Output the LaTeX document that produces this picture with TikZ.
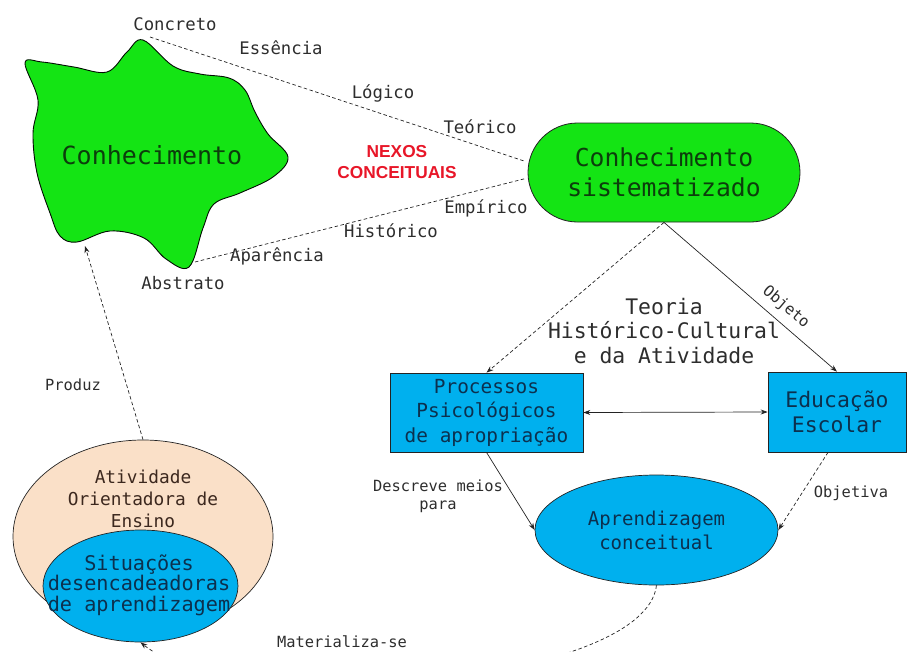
\documentclass[tikz,border=0pt]{standalone}
\usepackage{fontspec}
\setmainfont{DejaVu Sans Mono}
\newfontfamily\headfont{Liberation Sans}
\usetikzlibrary{arrows.meta,shapes.misc,shapes.geometric,calc}

\definecolor{leafgreen}{RGB}{20,228,20}
\definecolor{leaftext}{RGB}{12,62,12}
\definecolor{skyblue}{RGB}{0,176,238}
\definecolor{skytext}{RGB}{12,48,78}
\definecolor{peach}{RGB}{250,224,200}
\definecolor{peachtext}{RGB}{60,40,30}
\definecolor{nexred}{RGB}{232,22,40}
\definecolor{inkgray}{RGB}{45,45,45}
\definecolor{edgegray}{RGB}{35,35,35}

\begin{document}
\begin{tikzpicture}[x=1pt,y=-1pt,
  tip/.style={-{Stealth[length=7pt,width=5pt]}},
  link/.style={draw=edgegray,line width=0.7pt},
  dlink/.style={link,dash pattern=on 3.5pt off 2.5pt},
  toplbl/.style={font=\fontsize{17.3}{20}\selectfont,text=inkgray,inner sep=0pt},
  smlbl/.style={font=\fontsize{15.4}{18.5}\selectfont,text=inkgray,inner sep=0pt,align=center},
  bluebox/.style={draw=edgegray,line width=0.7pt,fill=skyblue,text=skytext,align=center,inner sep=0pt},
  boxtext/.style={text=skytext,align=center,inner sep=0pt},
]
\useasboundingbox (0,0) rectangle (908,651);

% irregular "Conhecimento" blob
\draw[draw=black!80!leaftext,line width=0.9pt,fill=leafgreen]
  plot[smooth cycle,tension=0.6] coordinates {
   (143,40) (173,66) (200,74) (229,78) (245,90) (255,112) (268,134) (288,157)
   (273,177) (240,193) (214,204) (203,228) (189,267) (166,259) (144,238)
   (110,231) (77,242) (60,236) (50,213) (37,173) (33,133) (38,100) (25,63)
   (42,62) (74,67) (107,72) (127,52)};
\node[font=\fontsize{25}{30}\selectfont,text=leaftext,inner sep=0pt] (conh) at (152,155) {Conhecimento};
\coordinate (bTop) at (150,37);
\coordinate (bBot) at (195,262);
\coordinate (bLow) at (85,246);

% systematised knowledge
\node[rounded rectangle,draw=edgegray,line width=0.8pt,fill=leafgreen,text=leaftext,
      minimum width=272pt,minimum height=99pt,inner sep=0pt,align=center,
      font=\fontsize{24.7}{30}\selectfont] (sys) at (664,172.5) {Conhecimento\\sistematizado};

% conceptual links between the two kinds of knowledge
\draw[dlink] (bTop) -- ($(sys.west)+(-2,-11)$);
\draw[dlink] (bBot) -- ($(sys.west)+(-2,6)$);
\node[toplbl] (lConcreto) at (175,24) {Concreto};
\node[toplbl] (lEssencia) at (281,48) {Essência};
\node[toplbl] (lLogico) at (383,93) {Lógico};
\node[toplbl] (lTeorico) at (480,127) {Teórico};
\node[toplbl] (lEmpirico) at (486,208) {Empírico};
\node[toplbl] (lHistorico) at (391,231) {Histórico};
\node[toplbl] (lAparencia) at (277,256) {Aparência};
\node[toplbl] (lAbstrato) at (183,283) {Abstrato};
\node[font=\headfont\bfseries\fontsize{17.3}{21.5}\selectfont,text=nexred,align=center,inner sep=0pt]
  (nexos) at (397,162) {NEXOS\\CONCEITUAIS};

% theory heading
\node[font=\fontsize{21.4}{24.5}\selectfont,text=inkgray,align=center,inner sep=0pt]
  (teoria) at (664,331) {Teoria\\Histórico-Cultural\\e da Atividade};

% blue boxes
\node[bluebox,minimum width=193pt,minimum height=79pt,font=\fontsize{19.4}{24.5}\selectfont]
  (proc) at (486.5,412.5) {Processos\\Psicológicos\\de apropriação};
\node[bluebox,minimum width=138pt,minimum height=80pt,font=\fontsize{21.4}{25}\selectfont]
  (edu) at (837,412) {Educação\\Escolar};
\node[bluebox,ellipse,minimum width=243pt,minimum height=110pt] (apr) at (656.5,530) {};
\node[boxtext,font=\fontsize{19}{24}\selectfont] (aprText) at (apr.center) {Aprendizagem\\conceitual};

% teaching activity
\node[ellipse,draw=edgegray,line width=0.7pt,fill=peach,minimum width=260pt,minimum height=193pt,inner sep=0pt]
  (act) at (143,536.5) {};
\node[font=\fontsize{17.8}{22}\selectfont,text=peachtext,align=center,inner sep=0pt]
  (actText) at (143,499) {Atividade\\Orientadora de\\Ensino};
\node[bluebox,ellipse,minimum width=195pt,minimum height=112pt] (situ) at (140.5,586) {};
\node[boxtext,font=\fontsize{20.2}{20.5}\selectfont] (situText) at (139,585) {Situações\\desencadeadoras\\de aprendizagem};

% connectors
\draw[dlink,tip] (sys.south) -- (proc.north);
\draw[link,tip] (sys.south) -- (edu.north);
\node[smlbl,rotate=-40] (lObjeto) at (786,307) {Objeto};
\draw[link,{Stealth[length=7pt,width=5pt]}-{Stealth[length=7pt,width=5pt]}] (proc.east) -- (edu.west);
\draw[link,tip] (proc.south) -- (apr.west);
\node[smlbl] (lDescreve) at (438,496) {Descreve meios\\para};
\draw[dlink,tip] ($(edu.south)+(-9,0)$) -- (apr.east);
\node[smlbl] (lObjetiva) at (851,493) {Objetiva};
\draw[dlink,tip] (act.north) -- (bLow);
\node[smlbl] (lProduz) at (73,385) {Produz};
\begin{scope}
  \clip (0,0) rectangle (908,651);
  \draw[dlink,tip] (apr.south) .. controls (645,685) and (235,718) .. (situ.south);
\end{scope}
\node[smlbl] (lMaterializa) at (342,642) {Materializa-se};
\end{tikzpicture}
\end{document}
